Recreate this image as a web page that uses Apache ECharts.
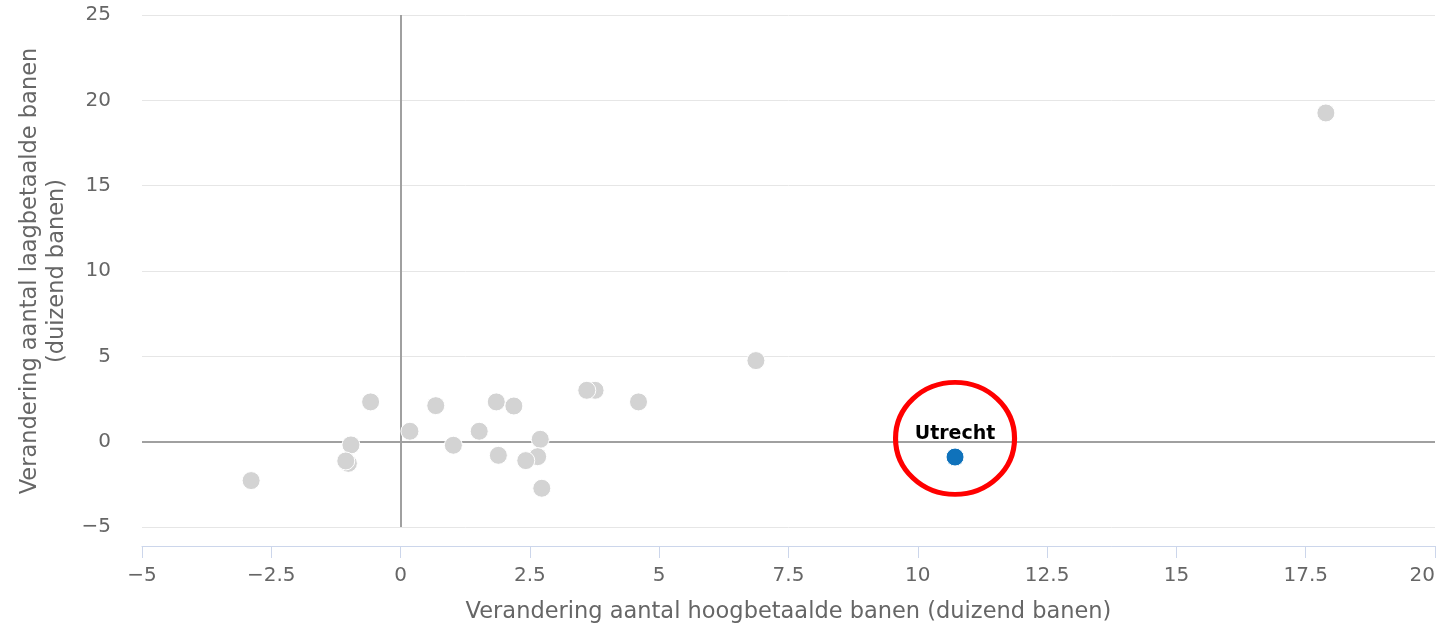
<!DOCTYPE html>
<html>
<head>
<meta charset="utf-8">
<script src="https://cdn.jsdelivr.net/npm/echarts@6/dist/echarts.min.js"></script>
<style>
html,body{margin:0;padding:0;background:#fff;overflow:hidden;}
#chart{width:1439px;height:631px;}
</style>
</head>
<body>
<div id="chart"></div>
<script>
// Data
const grayX = [-2.89, -0.58, -0.96, -1.01, -1.06, 0.18, 0.68, 1.02, 1.52, 1.85, 2.19, 1.89, 2.70, 2.65, 2.42, 2.73, 3.76, 3.60, 4.60, 6.87, 17.89];
const grayY = [-2.28, 2.33, -0.19, -1.27, -1.13, 0.61, 2.11, -0.21, 0.61, 2.33, 2.09, -0.80, 0.14, -0.88, -1.11, -2.73, 3.01, 3.01, 2.33, 4.75, 19.26];
const highlightName = ['Utrecht'];
const highlightX = [10.72];
const highlightY = [-0.90];
const annotationCenter = [10.72, 0.19];
const xTicks = [-5, -2.5, 0, 2.5, 5, 7.5, 10, 12.5, 15, 17.5, 20];
const yTicks = [-5, 0, 5, 10, 15, 20, 25];
const xTitle = 'Verandering aantal hoogbetaalde banen (duizend banen)';
const yTitle = 'Verandering aantal laagbetaalde banen\n(duizend banen)';

const FONT = '"DejaVu Sans", sans-serif';
const fmt = v => String(v).replace('-', '\u2212');

const chart = echarts.init(document.getElementById('chart'), null, {renderer: 'canvas'});
chart.setOption({
  animation: false,
  grid: {left: 142, right: 4, top: 15, bottom: 104, containLabel: false, outerBoundsMode: 'none'},
  xAxis: {
    type: 'value',
    min: xTicks[0], max: xTicks[xTicks.length - 1], interval: 2.5,
    offset: 19,
    name: xTitle, nameLocation: 'middle', nameGap: 55,
    nameTextStyle: {color: '#666', fontSize: 22.5, fontFamily: FONT},
    axisLine: {show: true, onZero: false, lineStyle: {color: '#ccd6eb', width: 1}},
    axisTick: {show: true, length: 12, lineStyle: {color: '#ccd6eb'}},
    axisLabel: {color: '#666', fontSize: 20, fontFamily: FONT, margin: 20, formatter: fmt, alignMaxLabel: 'right'},
    splitLine: {show: false}
  },
  yAxis: {
    type: 'value',
    min: yTicks[0], max: yTicks[yTicks.length - 1], interval: 5,
    name: yTitle, nameLocation: 'middle', nameGap: 71, nameRotate: 90,
    nameTextStyle: {color: '#666', fontSize: 22.5, fontFamily: FONT, lineHeight: 27},
    axisLine: {show: false, onZero: false},
    axisTick: {show: false},
    axisLabel: {color: '#666', fontSize: 20, fontFamily: FONT, margin: 31, formatter: fmt},
    splitLine: {show: true, lineStyle: {color: '#e6e6e6', width: 1}}
  },
  series: [
    {
      type: 'scatter',
      data: grayX.map((x, i) => [x, grayY[i]]),
      symbolSize: 18,
      itemStyle: {color: '#d3d3d3', borderColor: '#fff', borderWidth: 1, opacity: 1},
      z: 3,
      markLine: {
        silent: true,
        symbol: 'none',
        label: {show: false},
        lineStyle: {color: '#a0a0a0', width: 2, type: 'solid', opacity: 1},
        data: [{xAxis: 0}, {yAxis: 0}],
        z: 1
      }
    },
    {
      type: 'scatter',
      data: highlightX.map((x, i) => ({name: highlightName[i], value: [x, highlightY[i]]})),
      symbolSize: 18,
      itemStyle: {color: '#0f72bb', borderColor: '#fff', borderWidth: 1, opacity: 1},
      label: {
        show: true, position: 'top', distance: 4,
        formatter: p => p.name,
        color: '#000', fontWeight: 'bold', fontSize: 19, fontFamily: FONT,
        textBorderColor: '#fff', textBorderWidth: 2
      },
      z: 4
    },
    {
      type: 'scatter',
      data: [annotationCenter],
      symbol: 'path://M0,50 A50,50 0 1,1 100,50 A50,50 0 1,1 0,50 Z',
      symbolKeepAspect: false,
      symbolSize: [119, 112],
      itemStyle: {color: 'rgba(0,0,0,0)', borderColor: '#ff0000', borderWidth: 5, opacity: 1},
      silent: true,
      z: 5
    }
  ]
});
</script>
</body>
</html>
